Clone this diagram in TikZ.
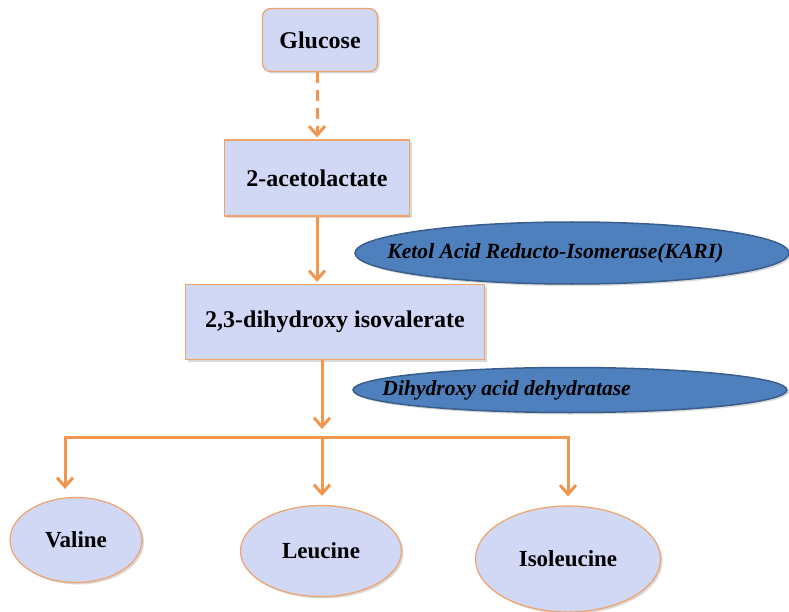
\documentclass[tikz,border=0pt]{standalone}
\usepackage{fontspec}
\setmainfont{Liberation Serif}
\usepackage{xcolor}
\usetikzlibrary{arrows.meta,shapes.geometric,shadows}
\definecolor{MetaboliteFill}{RGB}{208,216,246}
\definecolor{MetaboliteLine}{RGB}{240,162,104}
\definecolor{FlowLine}{RGB}{240,150,78}
\definecolor{EnzymeFill}{RGB}{78,128,190}
\definecolor{EnzymeLine}{RGB}{58,94,140}

\begin{document}
\begin{tikzpicture}[
    x=1pt,
    y=-1pt,
    soft shadow/.style={
      drop shadow={shadow xshift=2pt, shadow yshift=-2pt, opacity=.25, fill=black!60}
    },
    metabolite/.style={
      rectangle,
      draw=MetaboliteLine,
      fill=MetaboliteFill,
      line width=1.2pt,
      inner sep=0pt,
      soft shadow,
      font=\fontsize{24}{28}\selectfont\bfseries
    },
    product/.style={
      ellipse,
      draw=MetaboliteLine,
      fill=MetaboliteFill,
      line width=1.2pt,
      inner sep=0pt,
      soft shadow,
      font=\fontsize{23}{27}\selectfont\bfseries
    },
    enzyme/.style={
      ellipse,
      draw=EnzymeLine,
      fill=EnzymeFill,
      line width=1.5pt,
      inner sep=0pt,
      soft shadow
    },
    enzyme name/.style={
      anchor=west,
      inner sep=0pt,
      font=\fontsize{21.6}{25}\selectfont\bfseries\itshape
    },
    flow/.style={
      draw=FlowLine,
      line width=3pt,
      -{Straight Barb[length=9pt,width=16pt,line width=3pt]}
    },
  ]
  \useasboundingbox (0,0) rectangle (789,612);

  % pathway
  \node[
    metabolite,
    rounded corners=8pt,
    minimum width=115pt,
    minimum height=63pt,
  ] (glucose) at (320,40) {Glucose};
  \node[
    metabolite,
    minimum width=185pt,
    minimum height=76pt,
  ] (acetolactate) at (317,178) {2-acetolactate};
  \node[
    metabolite,
    minimum width=299pt,
    minimum height=75pt,
  ] (dihydroxy) at (335,322) {2,3-dihydroxy isovalerate};

  % enzymes
  \node[
    enzyme,
    minimum width=434pt,
    minimum height=62pt,
    label={[enzyme name, xshift=33pt]west:Ketol Acid Reducto-Isomerase(KARI)},
  ] (kari) at (572,253) {};
  \node[
    enzyme,
    minimum width=434pt,
    minimum height=45pt,
    label={[enzyme name, xshift=30pt]west:Dihydroxy acid dehydratase},
  ] (dehydratase) at (570,390) {};

  % amino acids
  \node[
    product,
    minimum width=132pt,
    minimum height=85pt,
  ] (valine) at (76,540) {Valine};
  \node[
    product,
    minimum width=161pt,
    minimum height=91pt,
  ] (leucine) at (321,551) {Leucine};
  \node[
    product,
    minimum width=185pt,
    minimum height=106pt,
  ] (isoleucine) at (568,559) {Isoleucine};

  \coordinate (fork) at (322,437);

  \draw[flow, dash pattern=on 11pt off 7pt, shorten >=2pt]
    (glucose.south -| acetolactate) -- (acetolactate.north);
  \draw[flow, shorten >=2pt]
    (acetolactate.south) -- (acetolactate.south |- dihydroxy.north);
  \draw[flow]
    (dihydroxy.south -| fork) -- ([yshift=8pt]fork);
  \draw[flow, shorten >=8pt] (fork) -| ([xshift=-11pt]valine.north);
  \draw[flow, shorten >=9pt] (fork) -- (fork |- leucine.north);
  \draw[flow, shorten >=9pt] (fork) -| (isoleucine.north);
\end{tikzpicture}
\end{document}
